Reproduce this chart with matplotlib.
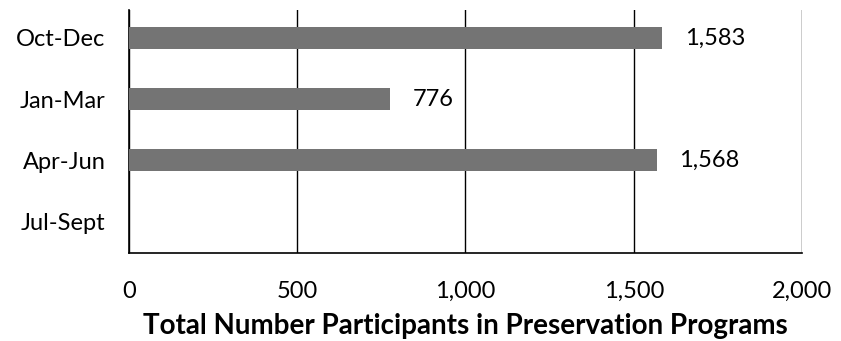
import numpy as np
import matplotlib.pyplot as plt
from matplotlib.ticker import FuncFormatter

quarters = ['Oct-Dec', 'Jan-Mar', 'Apr-Jun', 'Jul-Sept']
participants = [1583, 776, 1568, 0]
x_ticks = [0, 500, 1000, 1500, 2000]

plt.rcParams['font.family'] = ['Lato', 'DejaVu Sans']

fig = plt.figure(figsize=(8.41, 3.41), dpi=100)
ax = fig.add_axes([0.1534, 0.258, 0.8002, 0.713])

y = np.arange(len(quarters))
ax.barh(y, participants, height=0.36, color='#747474', zorder=3)
for yi, v in zip(y, participants):
    if v > 0:
        ax.text(v + 68, yi, '{:,}'.format(v), va='center', ha='left', fontsize=17, color='black')

ax.set_xlim(0, 2000)
ax.set_ylim(3.52, -0.46)
ax.set_yticks(y)
ax.set_yticklabels(quarters, fontsize=17)
ax.set_xticks(x_ticks)
ax.xaxis.set_major_formatter(FuncFormatter(lambda v, p: '{:,}'.format(int(v))))
ax.tick_params(axis='x', labelsize=17, length=0, pad=20)
ax.tick_params(axis='y', length=0, pad=17)
ax.grid(axis='x', color='black', lw=1, zorder=0)
ax.spines['top'].set_visible(False)
ax.spines['right'].set_visible(False)
ax.spines['left'].set_linewidth(1.2)
ax.spines['bottom'].set_linewidth(1.2)
ax.set_xlabel('Total Number Participants in Preservation Programs', fontsize=20, fontweight='bold', labelpad=8)

plt.savefig('out.png', dpi=100)
